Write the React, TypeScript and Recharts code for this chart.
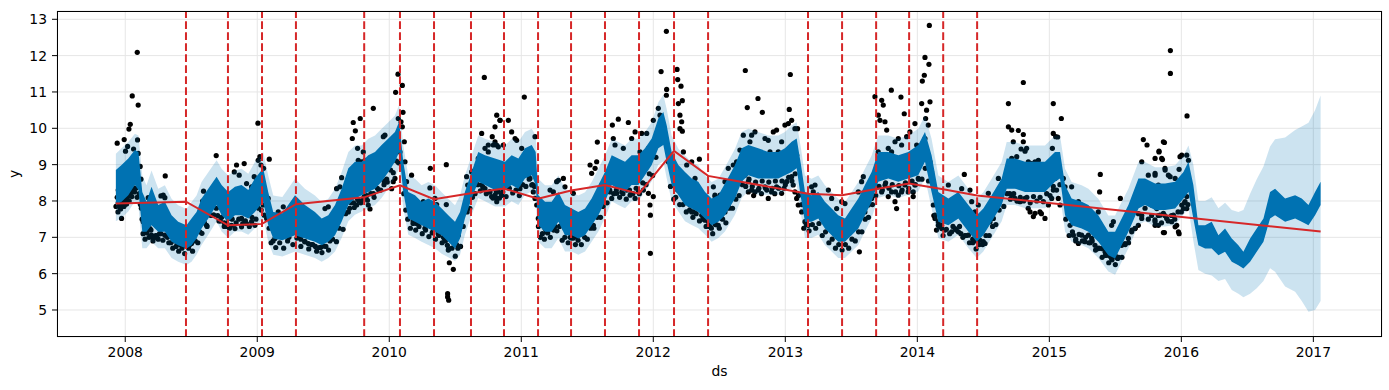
import React from 'react';
import { ComposedChart, Area, Line, Scatter, XAxis, YAxis, CartesianGrid, ReferenceLine } from 'recharts';

// ---- forecast (yhat band) sample points, decimal years ----
const fcYears = [
  2007.929, 2007.972, 2008.023, 2008.073, 2008.100, 2008.129, 2008.161, 2008.199, 2008.250, 2008.300,
  2008.351, 2008.401, 2008.464, 2008.502, 2008.540, 2008.578, 2008.629, 2008.692, 2008.730, 2008.780,
  2008.831, 2008.881, 2008.932, 2008.982, 2009.045, 2009.083, 2009.121, 2009.190, 2009.286, 2009.361,
  2009.437, 2009.488, 2009.538, 2009.589, 2009.639, 2009.690, 2009.740, 2009.791, 2009.841, 2009.892,
  2009.942, 2009.993, 2010.043, 2010.075, 2010.106, 2010.144, 2010.195, 2010.245, 2010.296, 2010.346,
  2010.397, 2010.447, 2010.498, 2010.536, 2010.573, 2010.624, 2010.674, 2010.725, 2010.801, 2010.877,
  2010.927, 2010.978, 2011.028, 2011.079, 2011.109, 2011.129, 2011.180, 2011.230, 2011.281, 2011.331,
  2011.382, 2011.432, 2011.483, 2011.533, 2011.584, 2011.634, 2011.685, 2011.735, 2011.786, 2011.836,
  2011.887, 2011.937, 2011.988, 2012.038, 2012.076, 2012.101, 2012.139, 2012.190, 2012.240, 2012.291,
  2012.341, 2012.392, 2012.442, 2012.493, 2012.543, 2012.619, 2012.669, 2012.720, 2012.795, 2012.871,
  2012.947, 2012.997, 2013.048, 2013.086, 2013.119, 2013.149, 2013.199, 2013.250, 2013.300, 2013.351,
  2013.401, 2013.452, 2013.502, 2013.553, 2013.603, 2013.654, 2013.704, 2013.780, 2013.856, 2013.931,
  2014.007, 2014.058, 2014.108, 2014.159, 2014.235, 2014.311, 2014.387, 2014.450, 2014.500, 2014.563,
  2014.639, 2014.677, 2014.740, 2014.816, 2014.892, 2014.967, 2015.043, 2015.081, 2015.119, 2015.169,
  2015.245, 2015.296, 2015.371, 2015.447, 2015.498, 2015.548, 2015.599, 2015.675, 2015.725, 2015.801,
  2015.877, 2015.953, 2016.016, 2016.054, 2016.091, 2016.129, 2016.180, 2016.230, 2016.281, 2016.331,
  2016.382, 2016.432, 2016.470, 2016.521, 2016.571, 2016.622, 2016.672, 2016.710, 2016.786, 2016.862,
  2016.912, 2016.963, 2017.013, 2017.055,
];

// dark (yhat) band upper / lower edge
const darkUpper = [
  8.85, 8.99, 9.17, 9.40, 9.35, 8.25, 7.98, 8.39, 7.89, 7.98,
  7.61, 7.43, 7.33, 7.52, 7.70, 8.07, 8.34, 8.67, 8.44, 8.25,
  8.39, 8.44, 8.30, 8.62, 8.90, 8.25, 7.70, 7.66, 8.16, 7.89,
  7.70, 7.52, 7.61, 7.89, 8.34, 8.90, 9.08, 9.08, 9.26, 9.35,
  9.54, 9.72, 9.90, 10.18, 9.08, 8.25, 8.16, 7.98, 8.07, 7.98,
  7.79, 7.61, 7.43, 7.70, 8.25, 8.80, 9.35, 9.26, 9.17, 9.08,
  9.26, 9.17, 9.45, 9.54, 9.35, 8.16, 7.98, 7.98, 8.25, 7.89,
  7.79, 7.70, 7.79, 8.07, 8.44, 8.80, 9.26, 9.17, 9.08, 9.26,
  9.26, 9.45, 9.72, 10.27, 10.45, 10.09, 9.35, 8.99, 8.80, 8.62,
  8.53, 8.25, 8.07, 8.16, 8.48, 8.99, 9.45, 9.54, 9.45, 9.35,
  9.35, 9.45, 9.63, 9.72, 8.99, 8.25, 8.16, 8.25, 7.98, 7.79,
  7.61, 7.52, 7.79, 8.07, 8.44, 8.80, 9.35, 9.35, 9.26, 9.35,
  9.54, 9.90, 9.26, 8.25, 8.07, 8.25, 7.89, 7.61, 7.79, 8.16,
  8.62, 9.17, 9.17, 9.08, 9.08, 9.08, 9.35, 9.35, 8.44, 8.07,
  7.98, 7.89, 7.61, 7.15, 7.15, 7.52, 7.89, 8.62, 8.62, 8.48,
  8.48, 8.53, 8.80, 9.08, 8.44, 7.33, 7.33, 7.43, 7.06, 7.24,
  6.97, 6.78, 6.60, 6.97, 7.24, 7.52, 8.25, 8.34, 8.07, 8.16,
  8.07, 7.89, 8.25, 8.53,
];
const darkLower = [
  7.89, 7.98, 8.16, 8.44, 8.30, 7.15, 7.15, 7.33, 7.15, 7.15,
  6.88, 6.78, 6.69, 6.78, 6.97, 7.24, 7.52, 7.89, 7.61, 7.43,
  7.61, 7.61, 7.52, 7.70, 7.98, 7.33, 6.97, 6.92, 7.06, 6.97,
  6.88, 6.78, 6.88, 7.06, 7.43, 7.89, 8.07, 8.16, 8.25, 8.34,
  8.53, 8.80, 9.08, 9.35, 8.25, 7.52, 7.43, 7.33, 7.24, 7.15,
  7.06, 6.88, 6.69, 6.97, 7.52, 8.07, 8.53, 8.44, 8.30, 8.30,
  8.44, 8.34, 8.62, 8.71, 8.44, 7.33, 7.15, 7.15, 7.43, 7.06,
  7.06, 6.97, 7.06, 7.33, 7.61, 7.98, 8.44, 8.34, 8.25, 8.44,
  8.44, 8.71, 8.99, 9.45, 9.54, 9.08, 8.44, 8.16, 7.89, 7.79,
  7.70, 7.52, 7.33, 7.43, 7.61, 8.07, 8.53, 8.71, 8.62, 8.62,
  8.62, 8.71, 8.80, 8.90, 8.07, 7.43, 7.43, 7.52, 7.24, 7.06,
  6.88, 6.88, 7.06, 7.24, 7.61, 7.98, 8.53, 8.62, 8.53, 8.62,
  8.71, 9.08, 8.25, 7.43, 7.33, 7.52, 7.15, 6.88, 7.06, 7.43,
  7.89, 8.34, 8.34, 8.25, 8.25, 8.25, 8.53, 8.62, 7.61, 7.33,
  7.24, 7.15, 6.88, 6.51, 6.42, 6.78, 7.15, 7.79, 7.89, 7.75,
  7.75, 7.79, 8.07, 8.25, 7.52, 6.78, 6.69, 6.69, 6.51, 6.60,
  6.33, 6.23, 6.14, 6.33, 6.60, 6.88, 7.52, 7.61, 7.43, 7.52,
  7.43, 7.33, 7.61, 7.89,
];

// uncertainty interval (yhat_lower / yhat_upper)
const bandUpper = [
  9.30, 9.45, 9.62, 9.85, 9.80, 8.70, 8.43, 8.84, 8.34, 8.43,
  8.06, 7.88, 7.78, 7.97, 8.15, 8.52, 8.79, 9.12, 8.89, 8.70,
  8.84, 8.89, 8.75, 9.07, 9.35, 8.70, 8.15, 8.11, 8.61, 8.34,
  8.15, 7.97, 8.06, 8.34, 8.79, 9.35, 9.53, 9.53, 9.71, 9.80,
  9.99, 10.17, 10.35, 10.65, 9.53, 8.70, 8.61, 8.43, 8.52, 8.43,
  8.24, 8.06, 7.88, 8.15, 8.70, 9.25, 9.80, 9.71, 9.62, 9.53,
  9.71, 9.62, 9.90, 9.99, 9.80, 8.61, 8.43, 8.43, 8.70, 8.34,
  8.24, 8.15, 8.24, 8.52, 8.89, 9.25, 9.71, 9.62, 9.53, 9.71,
  9.71, 9.90, 10.17, 10.72, 10.92, 10.54, 9.80, 9.44, 9.25, 9.07,
  8.98, 8.70, 8.52, 8.61, 8.93, 9.44, 9.90, 9.99, 9.90, 9.80,
  9.80, 9.90, 10.08, 10.17, 9.44, 8.70, 8.61, 8.70, 8.43, 8.24,
  8.06, 7.97, 8.24, 8.52, 8.89, 9.25, 9.80, 9.80, 9.71, 9.80,
  9.99, 10.35, 9.71, 8.70, 8.52, 8.70, 8.34, 8.06, 8.24, 8.61,
  9.07, 9.62, 9.62, 9.53, 9.53, 9.53, 9.80, 9.80, 8.89, 8.52,
  8.43, 8.34, 8.06, 7.60, 7.60, 7.97, 8.34, 9.07, 9.07, 8.93,
  8.93, 8.98, 9.25, 9.53, 9.00, 8.00, 8.00, 8.10, 7.80, 7.95,
  7.75, 7.70, 7.75, 8.20, 8.60, 8.95, 9.50, 9.70, 9.75, 9.95,
  10.05, 10.15, 10.50, 10.90,
];
const bandLower = [
  7.44, 7.53, 7.71, 7.99, 7.85, 6.70, 6.70, 6.88, 6.70, 6.70,
  6.43, 6.33, 6.24, 6.33, 6.52, 6.79, 7.07, 7.44, 7.16, 6.98,
  7.16, 7.16, 7.07, 7.25, 7.53, 6.88, 6.52, 6.47, 6.61, 6.52,
  6.43, 6.33, 6.43, 6.61, 6.98, 7.44, 7.62, 7.71, 7.80, 7.89,
  8.08, 8.35, 8.63, 8.90, 7.80, 7.07, 6.98, 6.88, 6.79, 6.70,
  6.55, 6.45, 6.35, 6.52, 7.07, 7.62, 8.08, 7.99, 7.85, 7.85,
  7.99, 7.89, 8.17, 8.26, 7.99, 6.88, 6.70, 6.70, 6.98, 6.61,
  6.61, 6.52, 6.61, 6.88, 7.16, 7.53, 7.99, 7.89, 7.80, 7.99,
  7.99, 8.26, 8.54, 9.00, 9.09, 8.63, 7.99, 7.71, 7.44, 7.34,
  7.25, 7.07, 6.88, 6.98, 7.16, 7.62, 8.08, 8.26, 8.17, 8.17,
  8.17, 8.26, 8.35, 8.45, 7.62, 6.98, 6.98, 7.07, 6.79, 6.61,
  6.43, 6.43, 6.61, 6.79, 7.16, 7.53, 8.08, 8.17, 8.08, 8.17,
  8.26, 8.63, 7.80, 6.98, 6.88, 7.07, 6.70, 6.43, 6.61, 6.98,
  7.44, 7.89, 7.89, 7.80, 7.80, 7.80, 8.08, 8.17, 7.16, 6.88,
  6.79, 6.70, 6.43, 6.06, 5.97, 6.33, 6.70, 7.34, 7.44, 7.30,
  7.30, 7.34, 7.62, 7.80, 6.90, 6.10, 6.00, 5.95, 5.80, 5.85,
  5.55, 5.45, 5.35, 5.45, 5.60, 5.80, 6.15, 6.05, 5.65, 5.50,
  5.25, 4.95, 5.00, 5.25,
];

// ---- trend and changepoints ----
const trendYears = [
  2007.929, 2008.460, 2008.778, 2009.036, 2009.293, 2009.808, 2010.081, 2010.339, 2010.619, 2010.869,
  2011.127, 2011.377, 2011.634, 2011.892, 2012.157, 2012.415, 2013.172, 2013.430, 2013.688, 2013.938,
  2014.196, 2014.453, 2017.055,
];
const trendValues = [
  7.93, 7.98, 7.33, 7.37, 7.91, 8.10, 8.43, 8.05, 8.21, 8.34,
  8.06, 8.29, 8.44, 8.20, 9.38, 8.69, 8.20, 8.16, 8.33, 8.48,
  8.32, 8.15, 7.16,
];
const changepoints = [
  2008.460, 2008.778, 2009.036, 2009.293, 2009.810, 2010.081, 2010.339, 2010.619, 2010.869, 2011.127,
  2011.377, 2011.634, 2011.892, 2012.157, 2012.415, 2013.172, 2013.430, 2013.688, 2013.938, 2014.196,
  2014.453,
];

// ---- observed points [year, y] ----
const obs2008: [number, number][] = [
  [2007.939, 9.59], [2007.992, 9.69], [2008.018, 9.50], [2008.002, 9.37], [2008.063, 9.43], [2008.093, 9.68],
  [2008.098, 9.31], [2008.028, 9.98], [2008.038, 10.11], [2008.053, 10.89], [2008.098, 10.64], [2008.091, 12.09],
  [2007.964, 8.82], [2008.113, 8.95], [2008.119, 8.60], [2007.947, 7.95], [2007.959, 7.84], [2007.970, 7.89],
  [2007.972, 7.52], [2007.985, 7.98], [2007.997, 7.90], [2008.010, 8.07], [2008.018, 8.00], [2008.035, 8.25],
  [2008.053, 8.39], [2008.060, 8.62], [2008.073, 8.53], [2007.939, 8.10], [2007.947, 8.30], [2008.028, 8.15],
  [2008.045, 8.30], [2008.136, 7.43], [2008.149, 7.33], [2008.174, 8.09], [2008.187, 7.24], [2008.199, 7.06],
  [2008.212, 6.97], [2008.225, 7.00], [2008.270, 8.14], [2008.288, 8.16], [2008.300, 8.09], [2008.303, 8.69],
  [2008.300, 7.06], [2008.338, 7.15], [2008.351, 7.06], [2008.376, 6.97], [2008.396, 6.83], [2008.414, 6.80],
  [2008.439, 6.81], [2008.490, 6.80], [2008.502, 6.83], [2008.528, 7.24], [2008.540, 7.43], [2008.160, 7.20],
  [2008.240, 7.05], [2008.260, 7.10], [2008.320, 7.00], [2008.365, 6.90], [2008.425, 6.85], [2008.455, 6.78],
  [2008.470, 6.85], [2008.593, 8.27], [2008.586, 8.00], [2008.641, 8.02], [2008.581, 7.11], [2008.616, 7.33],
  [2008.689, 9.25], [2008.843, 8.99], [2008.901, 9.03], [2008.863, 8.71], [2008.826, 8.80], [2008.919, 8.48],
  [2008.957, 8.39], [2008.977, 8.67], [2008.995, 8.57], [2009.020, 9.22], [2009.007, 9.12], [2009.028, 8.99],
  [2009.005, 10.14], [2009.091, 9.15], [2009.048, 8.90], [2008.780, 7.52], [2008.805, 7.33], [2008.831, 7.24],
  [2008.881, 7.29], [2008.919, 7.38], [2008.957, 7.43], [2008.982, 7.33], [2008.881, 7.52], [2008.700, 7.60],
  [2008.720, 7.45], [2008.750, 7.40], [2008.760, 7.30], [2009.045, 7.89], [2009.053, 7.61], [2009.071, 7.52],
  [2009.058, 8.16], [2009.083, 8.07], [2009.134, 6.97], [2009.159, 7.06], [2009.197, 7.84], [2009.209, 7.52],
];
const obs2009: [number, number][] = [
  [2009.159, 7.70], [2009.210, 7.06], [2009.260, 7.61], [2009.298, 7.89], [2009.311, 7.06], [2009.361, 6.88],
  [2009.387, 6.83], [2009.462, 7.47], [2009.513, 7.79], [2009.538, 7.84], [2009.576, 7.33], [2009.589, 7.52],
  [2009.240, 7.00], [2009.330, 6.95], [2009.420, 6.80], [2009.440, 6.75], [2009.480, 6.72], [2009.500, 6.76],
  [2009.550, 6.90], [2009.601, 8.34], [2009.626, 8.39], [2009.639, 8.64], [2009.664, 7.98], [2009.690, 8.07],
  [2009.715, 8.39], [2009.720, 9.72], [2009.743, 9.93], [2009.727, 10.16], [2009.780, 10.27], [2009.879, 10.55],
  [2009.760, 9.45], [2009.765, 9.12], [2009.753, 7.89], [2009.791, 9.08], [2009.803, 9.35], [2009.816, 9.12],
  [2009.841, 7.89], [2009.854, 7.78], [2009.866, 8.94], [2009.892, 9.08], [2009.904, 9.08], [2009.942, 9.35],
  [2009.955, 9.77], [2009.967, 9.81], [2009.993, 9.54], [2010.005, 9.08], [2010.018, 8.34], [2010.030, 8.53],
  [2010.043, 8.62], [2009.700, 7.80], [2009.730, 7.95], [2009.770, 8.00], [2009.800, 8.05], [2009.830, 8.15],
  [2009.880, 8.20], [2009.920, 8.30], [2009.960, 8.45], [2009.980, 8.60],
];
const obs2010: [number, number][] = [
  [2010.048, 10.99], [2010.066, 11.49], [2010.099, 11.18], [2010.104, 10.44], [2010.068, 10.27], [2010.089, 10.18],
  [2010.099, 10.04], [2010.114, 9.63], [2010.081, 9.35], [2010.119, 9.08], [2010.169, 8.71], [2010.131, 8.53],
  [2010.157, 7.98], [2010.195, 7.52], [2010.207, 7.38], [2010.220, 7.43], [2010.245, 7.89], [2010.258, 7.98],
  [2010.311, 8.90], [2010.308, 8.36], [2010.296, 7.89], [2010.346, 8.07], [2010.359, 7.90], [2010.432, 9.00],
  [2010.432, 7.90], [2010.389, 7.70], [2010.397, 7.52], [2010.447, 7.33], [2010.472, 7.06], [2010.485, 6.97],
  [2010.498, 6.83], [2010.510, 6.80], [2010.440, 6.78], [2010.447, 6.65], [2010.455, 6.30], [2010.485, 6.12],
  [2010.442, 5.45], [2010.450, 5.27], [2010.442, 5.36], [2010.523, 7.06], [2010.536, 7.33], [2010.180, 7.45],
  [2010.270, 7.25], [2010.330, 7.15], [2010.370, 7.10], [2010.410, 7.00], [2010.420, 6.95], [2010.586, 8.67],
  [2010.594, 8.44], [2010.624, 8.80], [2010.649, 8.85], [2010.674, 9.17], [2010.700, 9.86], [2010.720, 11.40],
  [2010.725, 9.45], [2010.750, 9.35], [2010.780, 9.77], [2010.801, 10.04], [2010.839, 10.22], [2010.750, 9.54],
  [2010.788, 9.54], [2010.813, 9.54], [2010.700, 8.44], [2010.725, 8.34], [2010.763, 8.25], [2010.775, 8.12],
  [2010.801, 8.16], [2010.813, 8.07], [2010.851, 8.16], [2010.864, 8.39],
];
const obs2011: [number, number][] = [
  [2010.814, 10.36], [2010.839, 10.22], [2010.902, 10.22], [2010.927, 9.90], [2010.953, 9.72], [2010.965, 9.67],
  [2011.023, 10.86], [2010.801, 9.63], [2010.826, 9.49], [2010.864, 9.54], [2011.003, 9.45], [2011.041, 9.35],
  [2011.104, 9.77], [2011.054, 8.71], [2011.066, 8.62], [2011.079, 8.44], [2011.091, 8.25], [2011.104, 8.07],
  [2011.117, 7.89], [2010.826, 8.25], [2010.852, 8.16], [2010.814, 7.98], [2010.877, 8.44], [2010.915, 8.62],
  [2010.953, 8.71], [2010.978, 8.57], [2010.990, 8.34], [2011.129, 7.52], [2011.155, 7.43], [2011.180, 7.24],
  [2011.205, 7.29], [2011.230, 7.43], [2011.281, 7.52], [2011.306, 7.33], [2011.331, 7.24], [2011.357, 7.15],
  [2011.382, 7.06], [2011.407, 7.11], [2011.432, 7.15], [2011.457, 7.24], [2011.483, 7.33], [2011.508, 7.52],
  [2011.546, 7.33], [2011.559, 7.70], [2011.584, 7.89], [2011.609, 7.98], [2011.370, 7.00], [2011.395, 6.98],
  [2011.420, 7.02], [2011.445, 7.08], [2011.190, 7.15], [2011.255, 7.30], [2011.218, 8.30], [2011.243, 8.25],
  [2011.268, 8.53], [2011.281, 8.57], [2011.319, 8.62], [2011.331, 8.39], [2011.394, 8.21], [2011.521, 8.99],
  [2011.533, 8.76], [2011.571, 9.08], [2011.576, 9.62], [2011.559, 8.90], [2011.609, 8.44], [2011.690, 10.09],
  [2011.735, 10.25], [2011.811, 10.16], [2011.697, 9.72], [2011.710, 9.54], [2011.773, 9.45], [2011.836, 9.72],
  [2011.862, 9.90], [2011.912, 9.86], [2011.950, 9.86], [2011.963, 9.45], [2011.899, 9.35], [2011.672, 8.25],
  [2011.685, 8.07], [2011.723, 8.21], [2011.761, 8.25], [2011.798, 8.30], [2011.824, 8.16], [2011.862, 8.07],
  [2011.887, 8.25], [2011.925, 8.30], [2011.963, 8.21], [2012.000, 8.12], [2011.978, 7.61], [2011.978, 6.56],
  [2011.975, 7.89],
];
const obs2012: [number, number][] = [
  [2012.099, 12.67], [2012.059, 11.56], [2012.101, 11.07], [2012.099, 10.91], [2012.180, 11.62], [2012.185, 11.34],
  [2012.210, 11.16], [2012.220, 10.76], [2012.190, 10.68], [2012.000, 10.22], [2012.038, 10.55], [2012.051, 10.36],
  [2012.202, 10.36], [2012.215, 10.18], [2012.202, 9.99], [2012.220, 9.92], [2012.114, 9.08], [2012.165, 8.62],
  [2012.177, 8.39], [2012.185, 8.30], [2012.202, 8.34], [2012.228, 9.35], [2012.253, 8.99], [2012.291, 9.08],
  [2012.349, 9.15], [2012.316, 8.62], [2012.266, 7.98], [2012.278, 7.89], [2012.291, 7.70], [2012.304, 7.70],
  [2012.341, 7.79], [2012.367, 7.61], [2012.392, 7.47], [2012.417, 7.43], [2012.455, 8.39], [2012.468, 8.12],
  [2012.506, 8.16], [2012.543, 8.53], [2012.480, 7.70], [2012.430, 7.30], [2012.440, 7.25], [2012.470, 7.35],
  [2012.467, 8.16], [2012.492, 7.33], [2012.518, 7.52], [2012.543, 7.70], [2012.568, 7.89], [2012.568, 8.90],
  [2012.606, 8.99], [2012.631, 9.08], [2012.656, 9.40], [2012.682, 9.81], [2012.697, 11.59], [2012.712, 10.57],
  [2012.732, 9.63], [2012.745, 9.81], [2012.770, 9.90], [2012.793, 10.82], [2012.826, 10.44], [2012.846, 9.72],
  [2012.871, 9.67], [2012.909, 9.90], [2012.934, 9.95], [2012.884, 9.35], [2012.947, 9.35], [2012.972, 9.63],
  [2012.997, 10.09], [2013.023, 10.13], [2013.038, 11.48], [2013.030, 10.52], [2013.048, 10.22], [2013.073, 9.99],
  [2013.093, 9.99], [2013.060, 9.54], [2013.086, 9.26], [2012.694, 8.71], [2012.720, 8.25], [2012.745, 8.30],
  [2012.770, 8.25], [2012.795, 8.30], [2012.846, 8.39], [2012.871, 8.07], [2012.896, 8.25], [2012.934, 8.39],
  [2012.972, 8.21], [2013.010, 8.53], [2013.048, 8.67], [2013.060, 8.44], [2013.073, 8.25], [2013.086, 8.07],
  [2012.720, 8.53], [2012.593, 8.34], [2012.619, 8.62], [2012.543, 8.12], [2012.760, 8.15], [2012.820, 8.20],
  [2012.860, 8.30], [2012.920, 8.20], [2012.990, 8.35],
];
const obs2013: [number, number][] = [
  [2013.098, 7.89], [2013.124, 7.70], [2013.149, 7.43], [2013.174, 7.33], [2013.199, 8.39], [2013.225, 8.44],
  [2013.212, 8.25], [2013.326, 8.30], [2013.351, 8.07], [2013.389, 7.79], [2013.427, 7.98], [2013.452, 7.93],
  [2013.237, 7.70], [2013.275, 7.52], [2013.300, 7.43], [2013.338, 7.33], [2013.376, 7.15], [2013.396, 7.01],
  [2013.427, 6.97], [2013.464, 7.06], [2013.502, 7.24], [2013.528, 7.43], [2013.561, 6.60], [2013.578, 8.53],
  [2013.591, 8.67], [2013.553, 8.25], [2013.578, 7.61], [2013.603, 7.70], [2013.629, 7.89], [2013.654, 8.07],
  [2013.679, 10.87], [2013.704, 10.36], [2013.717, 10.22], [2013.730, 10.77], [2013.742, 10.64], [2013.755, 10.18],
  [2013.768, 9.95], [2013.803, 11.05], [2013.831, 9.63], [2013.856, 9.72], [2013.876, 10.86], [2013.901, 10.40],
  [2013.919, 9.77], [2013.944, 9.90], [2013.982, 10.13], [2013.995, 9.54], [2013.704, 9.35], [2013.730, 9.26],
  [2013.780, 9.45], [2013.805, 9.35], [2013.881, 9.54], [2013.679, 8.62], [2013.704, 8.39], [2013.730, 8.25],
  [2013.755, 8.44], [2013.780, 8.12], [2013.805, 8.25], [2013.831, 7.98], [2013.843, 7.79], [2013.856, 8.16],
  [2013.881, 8.25], [2013.906, 8.44], [2013.931, 8.25], [2013.969, 8.12], [2013.969, 8.25], [2013.982, 8.44],
  [2014.007, 8.62], [2014.033, 10.68], [2014.053, 11.46], [2014.058, 11.95], [2014.088, 11.76], [2014.091, 12.83],
  [2014.038, 11.30], [2014.096, 10.73], [2014.070, 10.50], [2014.063, 10.27], [2014.083, 10.09], [2014.058, 9.72],
  [2014.070, 9.17], [2014.096, 9.08], [2014.108, 8.80], [2014.121, 7.89], [2014.134, 7.61], [2014.159, 7.43],
  [2014.184, 7.33], [2014.197, 7.52],
];
const obs2014: [number, number][] = [
  [2014.134, 7.52], [2014.159, 7.33], [2014.185, 7.24], [2014.235, 8.44], [2014.260, 7.15], [2014.286, 7.24],
  [2014.311, 7.15], [2014.336, 8.34], [2014.356, 8.73], [2014.387, 7.06], [2014.399, 8.30], [2014.412, 7.98],
  [2014.437, 7.70], [2014.462, 7.89], [2014.500, 6.88], [2014.513, 6.83], [2014.538, 8.21], [2014.551, 7.43],
  [2014.576, 7.52], [2014.589, 7.89], [2014.614, 8.62], [2014.639, 8.34], [2014.210, 7.20], [2014.330, 7.10],
  [2014.360, 7.05], [2014.420, 6.95], [2014.450, 6.90], [2014.475, 6.92], [2014.690, 10.68], [2014.803, 11.26],
  [2014.690, 10.04], [2014.715, 9.95], [2014.727, 9.63], [2014.765, 9.94], [2014.803, 9.83], [2014.803, 9.63],
  [2014.786, 9.43], [2014.828, 9.45], [2014.816, 9.37], [2014.715, 9.17], [2014.753, 9.22], [2014.841, 9.08],
  [2014.866, 9.03], [2014.892, 9.08], [2014.917, 9.12], [2014.955, 8.99], [2015.030, 10.68], [2015.091, 10.27],
  [2015.030, 9.86], [2015.048, 9.77], [2015.063, 9.76], [2015.023, 9.45], [2014.715, 8.16], [2014.740, 8.07],
  [2014.778, 7.98], [2014.816, 8.07], [2014.854, 7.70], [2014.879, 7.57], [2014.892, 7.66], [2014.929, 7.70],
  [2014.967, 7.52], [2014.993, 7.89], [2015.018, 8.07], [2015.030, 8.30], [2015.043, 8.62], [2015.068, 8.07],
  [2015.081, 7.89], [2015.106, 8.62], [2015.119, 8.39], [2015.131, 8.16], [2014.700, 8.20], [2014.760, 8.00],
  [2014.840, 7.80], [2014.940, 7.65],
];
const obs2015: [number, number][] = [
  [2015.144, 7.98], [2015.169, 8.39], [2015.195, 7.89], [2015.220, 7.98], [2015.245, 7.79], [2015.157, 7.33],
  [2015.182, 7.06], [2015.220, 6.83], [2015.245, 7.06], [2015.270, 6.88], [2015.296, 7.06], [2015.321, 6.97],
  [2015.346, 6.78], [2015.371, 6.69], [2015.386, 8.73], [2015.381, 8.25], [2015.371, 7.70], [2015.397, 6.69],
  [2015.422, 6.60], [2015.447, 6.51], [2015.472, 6.42], [2015.498, 6.51], [2015.518, 6.42], [2015.472, 7.33],
  [2015.485, 7.43], [2015.538, 8.07], [2015.548, 6.78], [2015.573, 6.83], [2015.599, 6.97], [2015.624, 7.15],
  [2015.649, 7.24], [2015.674, 7.33], [2015.700, 7.52], [2015.200, 6.90], [2015.310, 6.85], [2015.430, 6.55],
  [2015.460, 6.48], [2015.510, 6.45], [2015.712, 9.69], [2015.740, 9.54], [2015.700, 9.08], [2015.750, 8.71],
  [2015.801, 8.76], [2015.831, 9.37], [2015.864, 9.63], [2015.851, 9.17], [2015.876, 8.90], [2015.775, 7.89],
  [2015.801, 7.43], [2015.826, 7.33], [2015.864, 7.13],
];
const obs2016: [number, number][] = [
  [2015.917, 12.14], [2015.917, 11.51], [2016.043, 10.34], [2015.872, 9.61], [2015.831, 9.35], [2015.857, 9.14],
  [2015.801, 9.17], [2015.877, 8.85], [2015.902, 8.71], [2015.915, 8.67], [2015.983, 8.87], [2015.990, 9.22],
  [2016.003, 9.26], [2016.041, 9.26], [2016.054, 9.12], [2015.801, 8.71], [2015.826, 8.44], [2015.852, 8.39],
  [2015.953, 8.62], [2016.016, 8.62], [2015.801, 7.89], [2015.814, 7.79], [2015.839, 7.61], [2015.864, 7.66],
  [2015.889, 7.52], [2015.927, 7.43], [2015.940, 7.61], [2015.953, 7.29], [2015.965, 7.33], [2015.978, 7.15],
  [2015.872, 7.13], [2015.983, 7.10], [2016.003, 7.89], [2016.028, 7.98], [2016.041, 7.79], [2016.016, 7.79],
  [2016.041, 8.12], [2015.801, 7.33],
];

// dense low-side observations hugging the forecast band
const fringeA: [number, number][] = [
  [2007.930, 7.85], [2007.945, 7.70], [2007.955, 7.92], [2007.965, 7.78], [2007.980, 7.95], [2007.990, 7.85],
  [2008.000, 8.05], [2008.010, 7.92], [2008.020, 8.12], [2008.030, 8.00], [2008.040, 8.22], [2008.050, 8.12],
  [2008.060, 8.35], [2008.070, 8.25], [2008.080, 8.35], [2008.090, 8.10], [2008.105, 8.20], [2008.115, 7.90],
  [2008.122, 7.80], [2008.128, 7.50], [2008.135, 7.10], [2008.150, 6.95], [2008.165, 7.12], [2008.180, 7.00],
  [2008.195, 7.20], [2008.210, 6.90], [2008.230, 7.05], [2008.250, 6.95], [2008.270, 7.10], [2008.285, 6.92],
  [2008.310, 7.05], [2008.330, 6.85], [2008.345, 6.85], [2008.360, 6.70], [2008.385, 6.75], [2008.405, 6.62],
  [2008.430, 6.70], [2008.450, 6.55], [2008.480, 6.70], [2008.510, 6.62], [2008.530, 6.90], [2008.550, 6.85],
  [2008.565, 7.15], [2008.600, 7.40], [2008.620, 7.30], [2008.650, 7.60], [2008.670, 7.62], [2008.690, 7.80],
  [2008.710, 7.45], [2008.730, 7.55], [2008.750, 7.30], [2008.770, 7.38], [2008.790, 7.25], [2008.810, 7.50],
  [2008.840, 7.40], [2008.860, 7.50], [2008.890, 7.38], [2008.910, 7.45], [2008.940, 7.30], [2008.960, 7.55],
  [2008.990, 7.50], [2009.010, 7.80], [2009.030, 7.75],
];
const fringeB: [number, number][] = [
  [2009.090, 7.25], [2009.105, 6.85], [2009.120, 6.90], [2009.140, 6.72], [2009.170, 6.85], [2009.200, 6.70],
  [2009.230, 6.90], [2009.270, 6.80], [2009.300, 6.98], [2009.330, 6.75], [2009.360, 6.88], [2009.390, 6.68],
  [2009.410, 6.80], [2009.450, 6.62], [2009.470, 6.72], [2009.490, 6.58], [2009.520, 6.75], [2009.540, 6.65],
  [2009.570, 6.95], [2009.600, 6.88], [2009.620, 7.25], [2009.650, 7.22], [2009.670, 7.65], [2009.690, 7.70],
  [2009.710, 7.95], [2009.735, 7.82], [2009.760, 8.05], [2009.785, 7.95], [2009.810, 8.12], [2009.835, 8.02],
  [2009.860, 8.20], [2009.885, 8.10], [2009.910, 8.35], [2009.935, 8.30], [2009.960, 8.55], [2009.985, 8.52],
  [2010.010, 8.85], [2010.030, 8.78], [2010.055, 9.10], [2010.070, 9.05], [2010.110, 8.20], [2010.125, 7.75],
  [2010.140, 7.50], [2010.160, 7.25], [2010.180, 7.38], [2010.200, 7.20], [2010.225, 7.30], [2010.250, 7.10],
  [2010.275, 7.20], [2010.300, 7.02], [2010.325, 7.12], [2010.350, 6.95], [2010.375, 7.05], [2010.400, 6.85],
  [2010.425, 6.90], [2010.450, 6.68], [2010.475, 6.70], [2010.500, 6.48], [2010.520, 6.70], [2010.540, 6.75],
  [2010.560, 7.30],
];
const fringeC: [number, number][] = [
  [2010.590, 7.70], [2010.610, 7.80], [2010.630, 8.10], [2010.650, 8.20], [2010.670, 8.45], [2010.690, 8.28],
  [2010.710, 8.38], [2010.735, 8.20], [2010.760, 8.25], [2010.785, 8.08], [2010.810, 8.25], [2010.835, 8.08],
  [2010.860, 8.25], [2010.885, 8.12], [2010.910, 8.35], [2010.935, 8.22], [2010.960, 8.30], [2010.985, 8.15],
  [2011.010, 8.45], [2011.035, 8.40], [2011.060, 8.60], [2011.085, 8.45], [2011.100, 8.40], [2011.130, 7.30],
  [2011.145, 7.00], [2011.160, 7.10], [2011.175, 6.95], [2011.200, 7.12], [2011.220, 7.00], [2011.245, 7.20],
  [2011.270, 7.18], [2011.290, 7.30], [2011.310, 6.92], [2011.330, 7.00], [2011.355, 6.85], [2011.380, 6.98],
  [2011.410, 6.80], [2011.430, 6.92], [2011.455, 6.80], [2011.480, 7.00], [2011.500, 6.95], [2011.525, 7.25],
  [2011.550, 7.25], [2011.575, 7.55], [2011.600, 7.55], [2011.620, 7.85], [2011.650, 7.95], [2011.670, 8.30],
  [2011.700, 8.20], [2011.720, 8.30], [2011.745, 8.10], [2011.770, 8.20], [2011.795, 8.05], [2011.820, 8.30],
  [2011.845, 8.20], [2011.870, 8.35], [2011.895, 8.20], [2011.920, 8.50], [2011.945, 8.45], [2011.970, 8.75],
  [2011.995, 8.70], [2012.020, 9.20],
];
const fringeD: [number, number][] = [
  [2012.130, 8.40], [2012.155, 8.05], [2012.170, 8.10], [2012.200, 7.90], [2012.225, 7.90], [2012.250, 7.70],
  [2012.275, 7.75], [2012.300, 7.55], [2012.325, 7.65], [2012.350, 7.45], [2012.375, 7.50], [2012.400, 7.30],
  [2012.425, 7.30], [2012.450, 7.10], [2012.475, 7.35], [2012.500, 7.25], [2012.525, 7.50], [2012.550, 7.40],
  [2012.575, 7.80], [2012.600, 7.80], [2012.625, 8.05], [2012.650, 8.15], [2012.675, 8.45], [2012.700, 8.40],
  [2012.725, 8.60], [2012.750, 8.40], [2012.775, 8.52], [2012.800, 8.35], [2012.825, 8.55], [2012.850, 8.35],
  [2012.875, 8.52], [2012.900, 8.35], [2012.925, 8.55], [2012.950, 8.35], [2012.975, 8.55], [2013.000, 8.45],
  [2013.025, 8.65], [2013.050, 8.55], [2013.075, 8.75], [2013.100, 8.15], [2013.125, 7.90], [2013.140, 7.25],
  [2013.160, 7.35], [2013.180, 7.18], [2013.205, 7.35], [2013.230, 7.25], [2013.255, 7.38], [2013.280, 7.05],
  [2013.305, 7.15], [2013.330, 6.85], [2013.355, 6.95], [2013.380, 6.70], [2013.405, 6.80], [2013.430, 6.65],
  [2013.455, 6.80], [2013.480, 6.70], [2013.505, 6.95], [2013.530, 6.90], [2013.555, 7.15], [2013.580, 7.15],
  [2013.605, 7.50], [2013.630, 7.55],
];
const fringeE: [number, number][] = [
  [2013.660, 7.90], [2013.685, 8.15], [2013.710, 8.40], [2013.735, 8.30], [2013.760, 8.50], [2013.785, 8.35],
  [2013.810, 8.45], [2013.835, 8.25], [2013.860, 8.42], [2013.885, 8.30], [2013.910, 8.50], [2013.935, 8.35],
  [2013.960, 8.55], [2013.985, 8.45], [2014.010, 8.60], [2014.035, 8.60], [2014.060, 8.90], [2014.085, 8.55],
  [2014.125, 7.60], [2014.145, 7.20], [2014.170, 7.30], [2014.195, 7.05], [2014.220, 7.22], [2014.245, 7.10],
  [2014.270, 7.30], [2014.295, 7.20], [2014.320, 7.30], [2014.345, 7.00], [2014.370, 7.05], [2014.395, 6.85],
  [2014.420, 6.85], [2014.445, 6.68], [2014.470, 6.80], [2014.495, 6.80], [2014.520, 7.05], [2014.545, 7.05],
  [2014.570, 7.30], [2014.595, 7.35], [2014.620, 7.75], [2014.655, 7.85], [2014.680, 8.20], [2014.705, 8.05],
  [2014.730, 8.20], [2014.755, 8.00], [2014.780, 8.10], [2014.805, 8.00], [2014.830, 8.10], [2014.855, 7.95],
  [2014.880, 8.12], [2014.905, 8.00], [2014.930, 8.10], [2014.955, 7.98], [2014.980, 8.20], [2015.005, 8.15],
  [2015.030, 8.40], [2015.055, 8.30], [2015.080, 8.45],
];
const fringeF: [number, number][] = [
  [2015.125, 7.50], [2015.150, 7.05], [2015.175, 7.15], [2015.200, 6.95], [2015.225, 7.08], [2015.250, 6.90],
  [2015.275, 7.00], [2015.300, 6.85], [2015.325, 6.90], [2015.350, 6.65], [2015.375, 6.70], [2015.400, 6.45],
  [2015.425, 6.50], [2015.450, 6.30], [2015.475, 6.38], [2015.500, 6.25], [2015.525, 6.45], [2015.550, 6.45],
  [2015.575, 6.80], [2015.600, 6.85], [2015.625, 7.20], [2015.650, 7.25], [2015.675, 7.65], [2015.700, 7.60],
  [2015.725, 7.80], [2015.750, 7.50], [2015.775, 7.60], [2015.800, 7.48], [2015.825, 7.60], [2015.850, 7.40],
  [2015.875, 7.60], [2015.900, 7.45], [2015.925, 7.60], [2015.950, 7.50], [2015.975, 7.70], [2016.000, 7.70],
  [2016.025, 7.95], [2016.050, 7.90],
];

const xTicks = [2008, 2009, 2010, 2011, 2012, 2013, 2014, 2015, 2016, 2017];
const yTicks = [5, 6, 7, 8, 9, 10, 11, 12, 13];

const forecastData = fcYears.map((x, i) => ({
  x,
  band: [bandLower[i], bandUpper[i]],
  dark: [darkLower[i], darkUpper[i]],
}));
const trendData = trendYears.map((x, i) => ({ x, trend: trendValues[i] }));
const obsData = [
  ...obs2008, ...obs2009, ...obs2010, ...obs2011, ...obs2012, ...obs2013, ...obs2014, ...obs2015, ...obs2016,
  ...fringeA, ...fringeB, ...fringeC, ...fringeD, ...fringeE, ...fringeF,
].map(([x, y]) => ({ x, y }));

const FONT = '"DejaVu Sans", sans-serif';
const W = 1389;
const H = 390;
const M = { top: 11, right: 7, bottom: 0, left: 0 };
const Y_AXIS_W = 57;
const X_AXIS_H = 53;

const Dot = (props: any) => {
  const { cx, cy } = props;
  if (cx == null || cy == null) return null;
  return <circle cx={cx} cy={cy} r={2.6} fill="#000" />;
};

export default function App() {
  const plotLeft = M.left + Y_AXIS_W;
  const plotTop = M.top;
  const plotW = W - M.right - plotLeft;
  const plotH = H - X_AXIS_H - M.top;
  return (
    <div style={{ position: 'absolute', left: 0, top: 0, width: W, height: H, background: '#fff', fontFamily: FONT }}>
      <ComposedChart width={W} height={H} margin={M}>
        <CartesianGrid stroke="#e6e6e6" strokeWidth={1} />
        <XAxis
          dataKey="x"
          type="number"
          domain={[2007.483, 2017.52]}
          allowDataOverflow
          ticks={xTicks}
          interval={0}
          height={X_AXIS_H}
          axisLine={false}
          tickSize={5}
          tickMargin={5}
          tickLine={{ stroke: '#000', strokeWidth: 1 }}
          tick={{ fill: '#000', fontSize: 13.9, fontFamily: FONT }}
          tickFormatter={(v: number) => String(v)}
        />
        <YAxis
          type="number"
          domain={[4.257, 13.228]}
          allowDataOverflow
          ticks={yTicks}
          interval={0}
          width={Y_AXIS_W}
          axisLine={false}
          tickSize={5}
          tickMargin={5}
          tickLine={{ stroke: '#000', strokeWidth: 1 }}
          tick={{ fill: '#000', fontSize: 13.9, fontFamily: FONT }}
        />
        <Scatter data={obsData} dataKey="y" shape={Dot} isAnimationActive={false} zIndex={50} />
        <Area
          data={forecastData}
          dataKey="dark"
          type="linear"
          stroke="none"
          fill="#0072B2"
          fillOpacity={1}
          isAnimationActive={false}
          activeDot={false}
        />
        <Area
          data={forecastData}
          dataKey="band"
          type="linear"
          stroke="none"
          fill="#0072B2"
          fillOpacity={0.2}
          isAnimationActive={false}
          activeDot={false}
        />
        <Line
          data={trendData}
          dataKey="trend"
          type="linear"
          stroke="#d62728"
          strokeWidth={2}
          dot={false}
          activeDot={false}
          isAnimationActive={false}
        />
        {changepoints.map((c) => (
          <ReferenceLine key={c} x={c} stroke="#d62728" strokeWidth={2} strokeDasharray="7.7 3.3" />
        ))}
      </ComposedChart>
      <div
        style={{
          position: 'absolute',
          left: plotLeft,
          top: plotTop,
          width: plotW,
          height: plotH,
          border: '1px solid #000',
          boxSizing: 'border-box',
          pointerEvents: 'none',
        }}
      />
      <svg width={W} height={H} style={{ position: 'absolute', left: 0, top: 0, pointerEvents: 'none' }}>
        <text x={plotLeft + plotW / 2} y={376} textAnchor="middle" fontSize={13.9} fontFamily={FONT} fill="#000">ds</text>
        <text transform={`translate(18.8, ${plotTop + plotH / 2}) rotate(-90)`} textAnchor="middle" fontSize={13.9} fontFamily={FONT} fill="#000">y</text>
      </svg>
    </div>
  );
}
